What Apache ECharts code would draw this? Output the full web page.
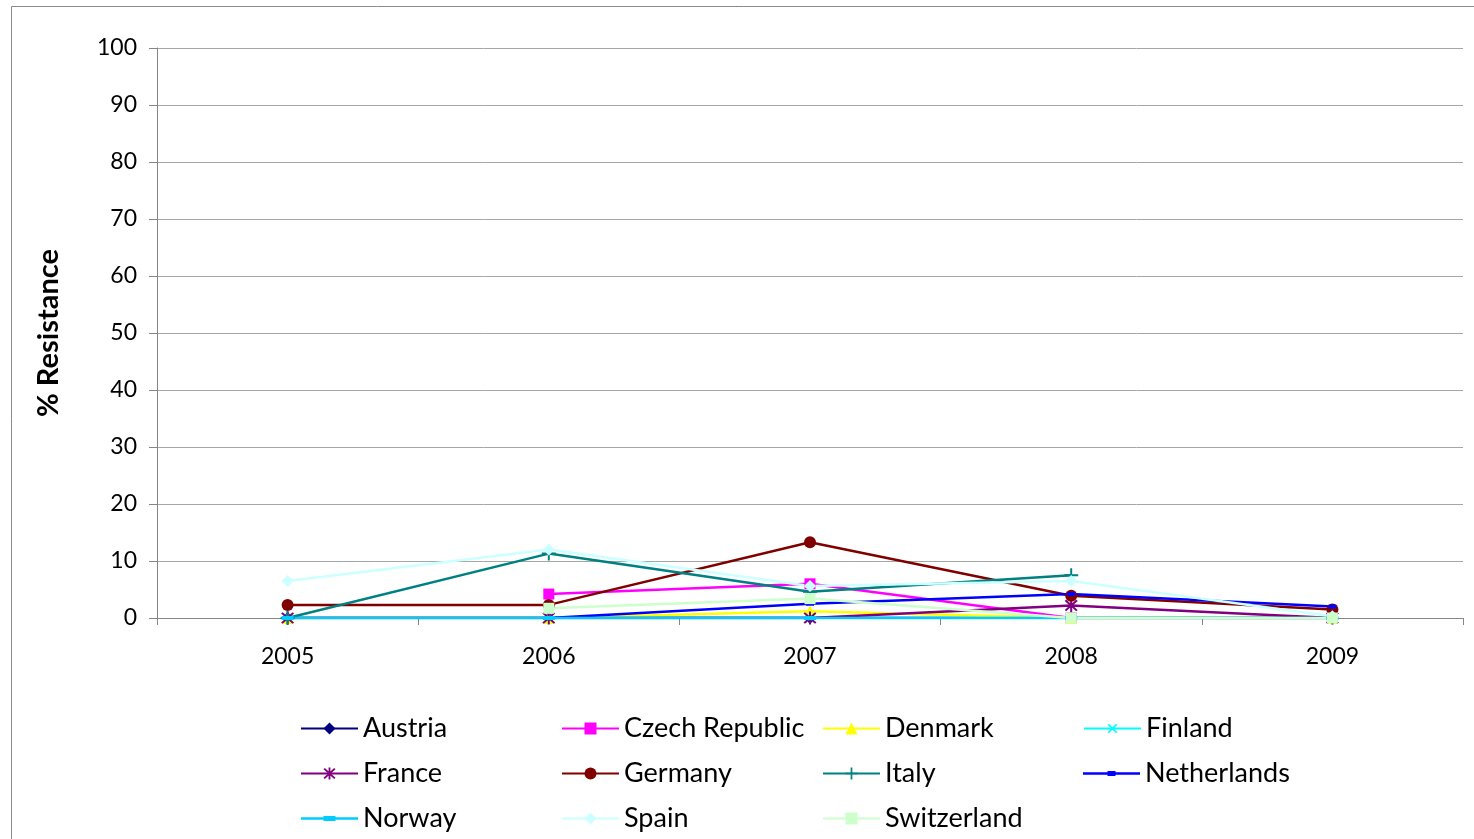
<!DOCTYPE html>
<html>
<head>
<meta charset="utf-8">
<script src="https://cdn.jsdelivr.net/npm/echarts@6/dist/echarts.min.js"></script>
<style>
  html, body { margin: 0; padding: 0; background: #ffffff; }
  #chart { width: 1474px; height: 839px; }
</style>
</head>
<body>
<div id="chart"></div>
<script>
// Years on the category axis
const years = ['2005', '2006', '2007', '2008', '2009'];

// % resistance by country and year (null = no data)
const austria     = [0, 0, 0, 0, 0];
const czech       = [null, 4.2, 6.0, 0, 0];
const denmark     = [0, 0, 1.2, 0, 0];
const finland     = [0, 0, 0, 0, 0];
const france      = [0, 0, 0, 2.2, 0];
const germany     = [2.3, 2.3, 13.3, 3.9, 1.5];
const italy       = [0, 11.3, 4.6, 7.5, null];
const netherlands = [null, 0, 2.5, 4.2, 2.0];
const norway      = [0, 0, 0, 0, 0];
const spain       = [6.5, 12.0, 5.6, 6.5, 0.3];
const switzerland = [null, 1.7, 3.4, 0, 0];

// Y axis ticks
const yTicks = [0, 10, 20, 30, 40, 50, 60, 70, 80, 90, 100];

const FONT = 'Lato, "Open Sans", sans-serif';

// Marker shapes
const PLUS = 'path://M-0.7,-5 L0.7,-5 L0.7,-0.7 L5,-0.7 L5,0.7 L0.7,0.7 L0.7,5 L-0.7,5 L-0.7,0.7 L-5,0.7 L-5,-0.7 L-0.7,-0.7 Z';
const STAR = 'path://M-0.7,-5 L0.7,-5 L0.7,5 L-0.7,5 Z M-4.5,-3.5 L-3.5,-4.5 L4.5,3.5 L3.5,4.5 Z M3.5,-4.5 L4.5,-3.5 L-3.5,4.5 L-4.5,3.5 Z';
const DASH_SHORT = 'path://M0,0 L8,0 L8,4 L0,4 Z';
const DASH_LONG = 'path://M0,0 L12,0 L12,4 L0,4 Z';

// Legend icons for the dash markers: line plus a centred dash, drawn in a 57x15 box
const LEG_DASH_SHORT = 'path://M0,0 L0,0 Z M57,15 L57,15 Z M0,6.3 L57,6.3 L57,8.7 L0,8.7 Z M24.5,5 L32.5,5 L32.5,10 L24.5,10 Z';
const LEG_DASH_LONG = 'path://M0,0 L0,0 Z M57,15 L57,15 Z M0,6.3 L57,6.3 L57,8.7 L0,8.7 Z M22.5,5 L34.5,5 L34.5,10 L22.5,10 Z';

function lineSeries(name, data, color, symbol, size, extra) {
  return Object.assign({
    name: name,
    type: 'line',
    data: data,
    symbol: symbol,
    symbolSize: size,
    showAllSymbol: true,
    connectNulls: false,
    lineStyle: { color: color, width: 2.5 },
    itemStyle: { color: color, borderWidth: 0 },
    emphasis: { disabled: true },
    animation: false
  }, extra || {});
}

const series = [
  lineSeries('Austria', austria, '#000080', 'diamond', 12),
  lineSeries('Czech Republic', czech, '#FF00FF', 'rect', 11),
  lineSeries('Denmark', denmark, '#FFFF00', 'triangle', 12),
  lineSeries('Finland', finland, '#00FFFF', PLUS, 13, { symbolRotate: 45 }),
  lineSeries('France', france, '#800080', STAR, 13),
  lineSeries('Germany', germany, '#800000', 'circle', 12),
  lineSeries('Italy', italy, '#008080', PLUS, 14),
  lineSeries('Netherlands', netherlands, '#0000FF', DASH_SHORT, [8, 4]),
  lineSeries('Norway', norway, '#00CCFF', DASH_LONG, [12, 4]),
  lineSeries('Spain', spain, '#CCFFFF', 'diamond', 12),
  lineSeries('Switzerland', switzerland, '#CCFFCC', 'rect', 11)
];

const legendIcons = { 'Netherlands': LEG_DASH_SHORT, 'Norway': LEG_DASH_LONG };

const chart = echarts.init(document.getElementById('chart'), null, { renderer: 'canvas' });

chart.setOption({
  backgroundColor: '#ffffff',
  animation: false,
  graphic: [{
    type: 'rect',
    shape: { x: 11.5, y: 6.5, width: 1500, height: 900 },
    style: { fill: 'none', stroke: '#8a8a8a', lineWidth: 1 },
    silent: true,
    z: -1
  }],
  grid: { left: 157, right: 11, top: 48, bottom: 221, containLabel: false },
  xAxis: {
    type: 'category',
    data: years,
    boundaryGap: true,
    axisLine: { lineStyle: { color: '#868686', width: 1 } },
    axisTick: { show: true, length: 7, lineStyle: { color: '#868686' }, alignWithLabel: false },
    axisLabel: { color: '#000', fontFamily: FONT, fontSize: 23, margin: 27 },
    splitLine: { show: false }
  },
  yAxis: {
    type: 'value',
    min: yTicks[0],
    max: yTicks[yTicks.length - 1],
    interval: 10,
    name: '% Resistance',
    nameLocation: 'middle',
    nameGap: 94,
    nameRotate: 90,
    nameTextStyle: { color: '#000', fontFamily: FONT, fontSize: 29, fontWeight: 'bold' },
    axisLine: { show: true, lineStyle: { color: '#868686', width: 1 } },
    axisTick: { show: true, length: 8, lineStyle: { color: '#868686' } },
    axisLabel: { color: '#000', fontFamily: FONT, fontSize: 23, margin: 20 },
    splitLine: { show: true, lineStyle: { color: '#a6a6a6', width: 1 } }
  },
  legend: {
    left: 300,
    top: 706,
    width: 1045,
    orient: 'horizontal',
    padding: 0,
    itemGap: 0,
    itemWidth: 57,
    itemHeight: 15,
    symbolKeepAspect: false,
    textStyle: {
      color: '#000',
      fontFamily: FONT,
      fontSize: 27,
      width: 198,
      lineHeight: 45,
      overflow: 'none'
    },
    data: series.map(s => legendIcons[s.name]
      ? { name: s.name, icon: legendIcons[s.name] }
      : { name: s.name })
  },
  series: series
});
</script>
</body>
</html>
